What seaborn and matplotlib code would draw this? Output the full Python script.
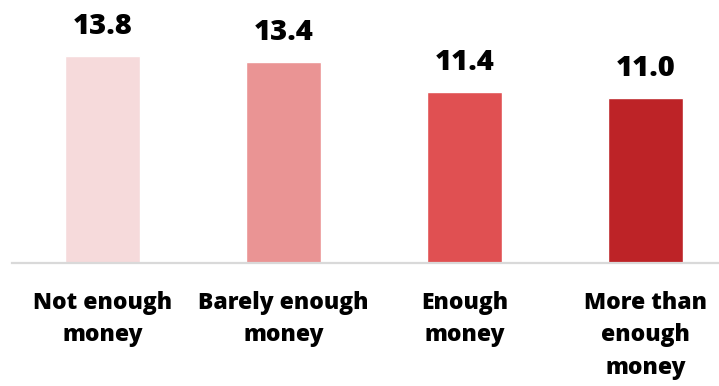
import matplotlib
matplotlib.use("Agg")
import matplotlib.pyplot as plt
import seaborn as sns
import pandas as pd

categories = ["Not enough\nmoney", "Barely enough\nmoney", "Enough\nmoney", "More than\nenough\nmoney"]
values = [13.8, 13.4, 11.4, 11.0]
value_labels = ["13.8", "13.4", "11.4", "11.0"]
colors = ["#F6DADB", "#EA9494", "#E05052", "#BD2327"]

sns.set_theme(style="white")
plt.rcParams["font.family"] = ["Open Sans", "DejaVu Sans"]

df = pd.DataFrame({"cat": categories, "val": values})

fig = plt.figure(figsize=(7.19, 3.86), dpi=100)
ax = fig.add_axes([12 / 719, 123 / 386, 724 / 719, 263 / 386])
sns.barplot(data=df, x="cat", y="val", hue="cat", palette=colors, legend=False,
            width=0.414, saturation=1, ax=ax)

ax.set_xlim(-0.5, 3.5)
ax.set_ylim(0, 263 / 15)
for s in ["top", "right", "left"]:
    ax.spines[s].set_visible(False)
ax.spines["bottom"].set_color("#d9d9d9")
ax.spines["bottom"].set_linewidth(1.6)
ax.set_yticks([])
ax.set_xlabel("")
ax.set_ylabel("")
ax.tick_params(axis="x", length=0, pad=20)
ax.set_xticks(range(len(categories)))
ax.set_xticklabels(categories, fontsize=16.5, fontweight=800, color="black", linespacing=1.47)

for i, (v, lab) in enumerate(zip(values, value_labels)):
    ax.annotate(lab, xy=(i, v), xytext=(0, 16), textcoords="offset points",
                ha="center", va="baseline", fontsize=21, fontweight=800, color="black")

fig.savefig("out.png", dpi=100)
